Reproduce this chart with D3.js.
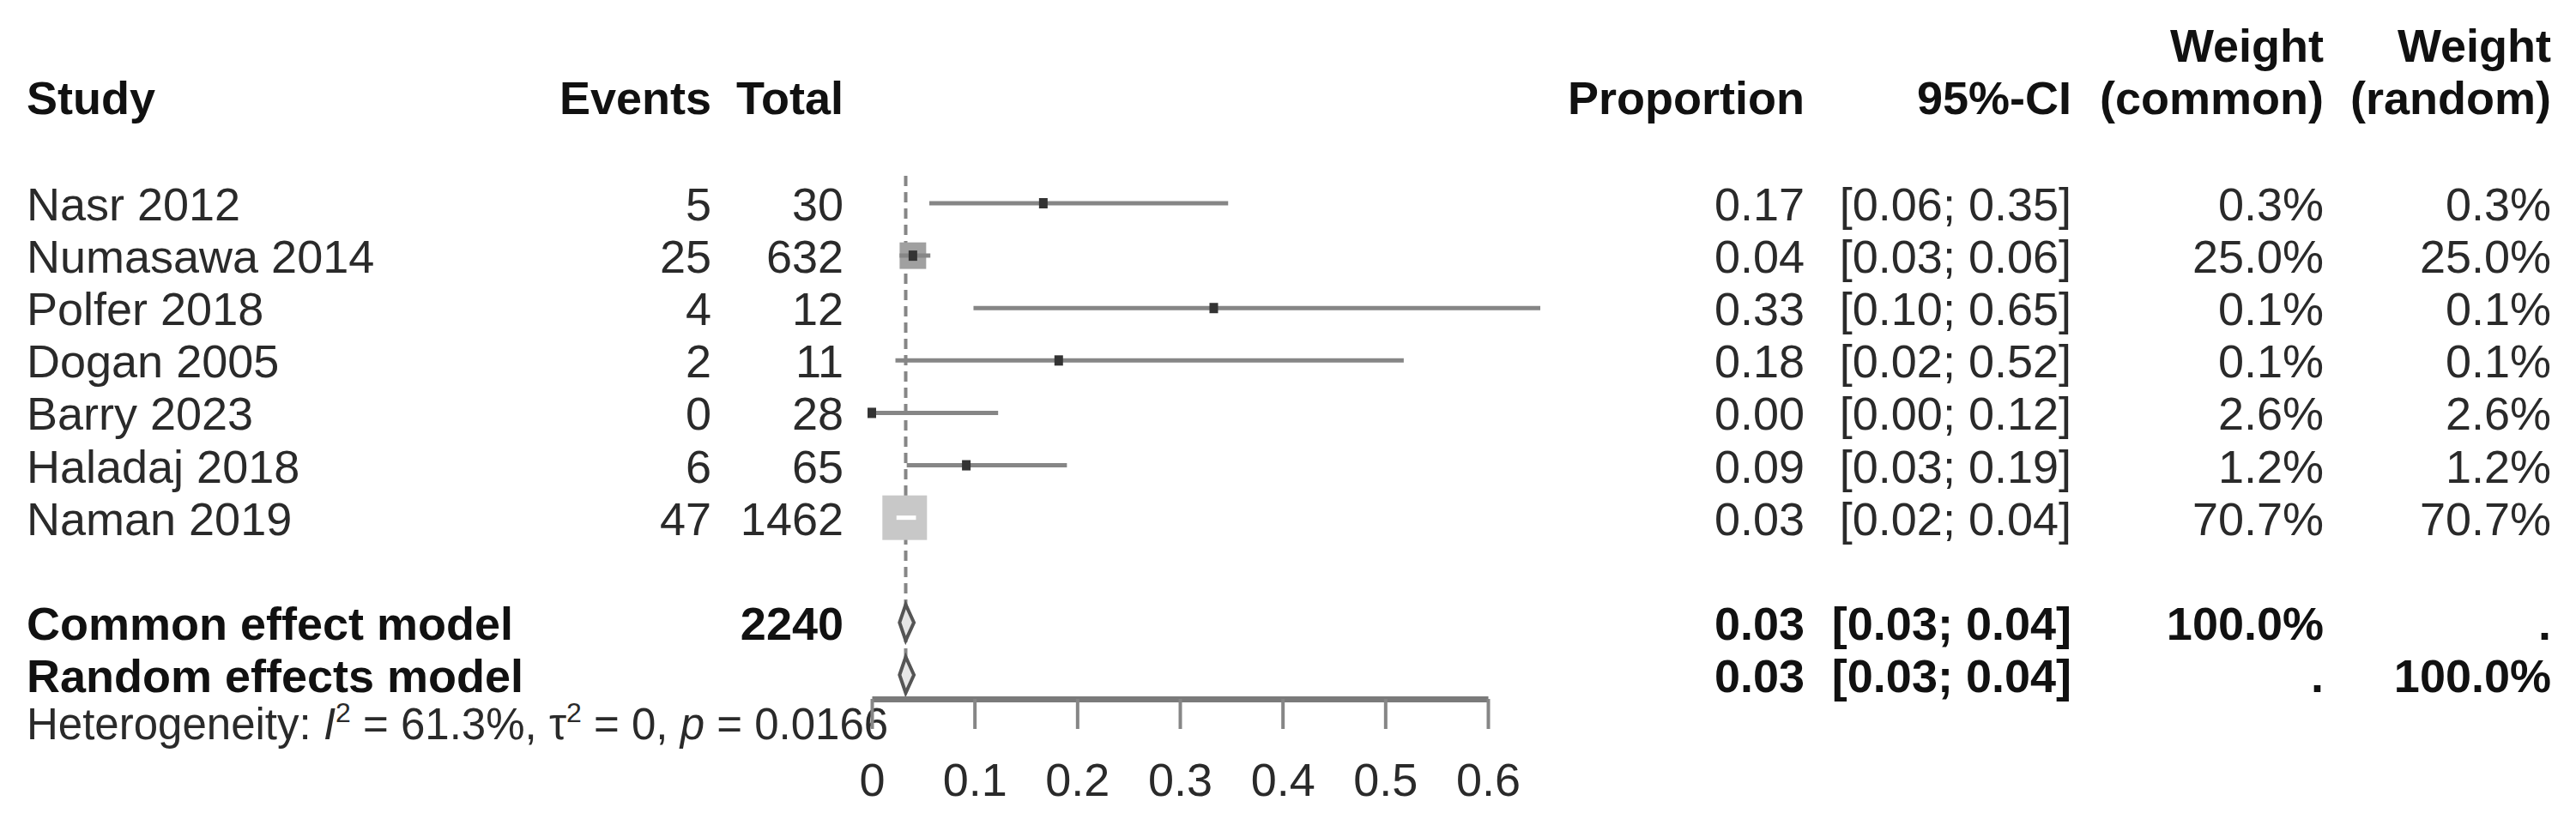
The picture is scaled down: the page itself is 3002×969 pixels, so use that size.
<!DOCTYPE html>
<html>
<head>
<meta charset="utf-8">
<script src="https://cdn.jsdelivr.net/npm/d3@7"></script>
<style>
  html, body { margin: 0; padding: 0; background: #fff; }
  svg text { font-family: "Liberation Sans", Arial, Helvetica, sans-serif; }
</style>
</head>
<body>
<svg id="chart" width="3002" height="969"></svg>
<script>
// study level data
let studies   = ['Nasr 2012', 'Numasawa 2014', 'Polfer 2018', 'Dogan 2005', 'Barry 2023', 'Haladaj 2018', 'Naman 2019'];
let events    = [5, 25, 4, 2, 0, 6, 47];
let totals    = [30, 632, 12, 11, 28, 65, 1462];
let estimates = [0.167, 0.040, 0.333, 0.182, 0.000, 0.092, 0.032];
let lowers    = [0.056, 0.027, 0.099, 0.023, 0.000, 0.034, 0.024];
let uppers    = [0.347, 0.057, 0.651, 0.518, 0.123, 0.190, 0.043];
let wCommon   = ['0.3%', '25.0%', '0.1%', '0.1%', '2.6%', '1.2%', '70.7%'];
let wRandom   = ['0.3%', '25.0%', '0.1%', '0.1%', '2.6%', '1.2%', '70.7%'];
let weights   = [0.3, 25.0, 0.1, 0.1, 2.6, 1.2, 70.7];

// pooled models
let models     = ['Common effect model', 'Random effects model'];
let modelTotal = ['2240', ''];
let modelEst   = [0.033, 0.033];
let modelLow   = [0.027, 0.027];
let modelUp    = [0.041, 0.041];
let modelWC    = ['100.0%', '.'];
let modelWR    = ['.', '100.0%'];

let axisTicks = [0, 0.1, 0.2, 0.3, 0.4, 0.5, 0.6];
let hetero    = { I2: '61.3%', tau2: '0', p: '0.0166' };

const svg = d3.select('#chart');
const fs = 54;
const lineCol = '#868686';

const x = d3.scaleLinear().domain([0, 0.6]).range([1016, 1734]);
const y = d3.scaleLinear().domain([0, 9]).range([237, 787]);
const side = d3.scaleSqrt().domain([0, 70.7]).range([0, 52]);

const fmt = d => d.toFixed(2);
const ciText = (l, u) => `[${fmt(l)}; ${fmt(u)}]`;

function txt(g, str, xp, yp, anchor, bold) {
  return g.append('text')
    .attr('x', xp).attr('y', yp)
    .attr('text-anchor', anchor)
    .attr('font-size', fs)
    .attr('font-weight', bold ? 'bold' : 'normal')
    .attr('fill', bold ? '#111' : '#2a2a2a')
    .text(str);
}

// columns
const col = {
  study: 31, events: 829, total: 983,
  prop: 2103, ci: 2414, wc: 2708, wr: 2973
};

// headers
let head = svg.append('g');
txt(head, 'Study', col.study, 133, 'start', true);
txt(head, 'Events', col.events, 133, 'end', true);
txt(head, 'Total', col.total, 133, 'end', true);
txt(head, 'Proportion', col.prop, 133, 'end', true);
txt(head, '95%-CI', col.ci, 133, 'end', true);
txt(head, 'Weight', col.wc, 72, 'end', true);
txt(head, '(common)', col.wc, 133, 'end', true);
txt(head, 'Weight', col.wr, 72, 'end', true);
txt(head, '(random)', col.wr, 133, 'end', true);

// study rows text
let rows = svg.append('g');
studies.forEach((s, i) => {
  let b = y(i) + 20;
  txt(rows, s, col.study, b, 'start', false);
  txt(rows, events[i], col.events, b, 'end', false);
  txt(rows, totals[i], col.total, b, 'end', false);
  txt(rows, fmt(estimates[i]), col.prop, b, 'end', false);
  txt(rows, ciText(lowers[i], uppers[i]), col.ci, b, 'end', false);
  txt(rows, wCommon[i], col.wc, b, 'end', false);
  txt(rows, wRandom[i], col.wr, b, 'end', false);
});

models.forEach((m, j) => {
  let b = y(8 + j) + 20;
  txt(rows, m, col.study, b, 'start', true);
  txt(rows, modelTotal[j], col.total, b, 'end', true);
  txt(rows, fmt(modelEst[j]), col.prop, b, 'end', true);
  txt(rows, ciText(modelLow[j], modelUp[j]), col.ci, b, 'end', true);
  txt(rows, modelWC[j], col.wc, b, 'end', true);
  txt(rows, modelWR[j], col.wr, b, 'end', true);
});

// heterogeneity line
let het = svg.append('text')
  .attr('x', col.study).attr('y', 862)
  .attr('font-size', 51)
  .attr('fill', '#2a2a2a');
het.append('tspan').text('Heterogeneity: ');
het.append('tspan').attr('font-style', 'italic').text('I');
het.append('tspan').attr('font-size', 32).attr('dy', -20).text('2');
het.append('tspan').attr('dy', 20).text(` = ${hetero.I2}, \u03c4`);
het.append('tspan').attr('font-size', 32).attr('dy', -20).text('2');
het.append('tspan').attr('dy', 20).text(` = ${hetero.tau2}, `);
het.append('tspan').attr('font-style', 'italic').text('p');
het.append('tspan').text(` = ${hetero.p}`);

// plot area
let plot = svg.append('g');

// reference line at pooled estimate
plot.append('line')
  .attr('x1', x(modelEst[1])).attr('x2', x(modelEst[1]))
  .attr('y1', 205).attr('y2', 815)
  .attr('stroke', lineCol).attr('stroke-width', 4)
  .attr('stroke-dasharray', '12,7');

// squares, CI lines, point markers
studies.forEach((s, i) => {
  let cy = y(i);
  let sz = side(weights[i]);
  let inside = x(lowers[i]) >= x(estimates[i]) - sz / 2 && x(uppers[i]) <= x(estimates[i]) + sz / 2;
  plot.append('rect')
    .attr('x', x(estimates[i]) - sz / 2).attr('y', cy - sz / 2)
    .attr('width', sz).attr('height', sz)
    .attr('fill', inside ? '#c8c8c8' : '#a0a0a0');
  plot.append('line')
    .attr('x1', x(lowers[i])).attr('x2', x(uppers[i]))
    .attr('y1', cy).attr('y2', cy)
    .attr('stroke', inside ? '#fff' : lineCol).attr('stroke-width', 5);
  if (!inside) {
    plot.append('rect')
      .attr('x', x(estimates[i]) - 5).attr('y', cy - 6)
      .attr('width', 10).attr('height', 12)
      .attr('fill', '#333');
  }
});

// pooled diamonds
models.forEach((m, j) => {
  let cy = y(8 + j);
  let pts = [[x(modelLow[j]), cy], [x(modelEst[j]), cy - 21], [x(modelUp[j]), cy], [x(modelEst[j]), cy + 21]];
  plot.append('polygon')
    .attr('points', pts.map(p => p.join(',')).join(' '))
    .attr('fill', '#e6e6e6')
    .attr('stroke', '#555').attr('stroke-width', 4);
});

// x axis
let axis = svg.append('g')
  .attr('transform', 'translate(0,815)')
  .call(d3.axisBottom(x).tickValues(axisTicks).tickSize(35).tickSizeOuter(0).tickPadding(40).tickFormat(d3.format('~g')));
axis.select('.domain').attr('stroke', '#7a7a7a').attr('stroke-width', 7);
axis.selectAll('.tick line').attr('stroke', lineCol).attr('stroke-width', 4);
axis.selectAll('.tick text')
  .attr('font-size', fs)
  .attr('font-family', '"Liberation Sans", Arial, sans-serif')
  .attr('fill', '#2a2a2a');
</script>
</body>
</html>
